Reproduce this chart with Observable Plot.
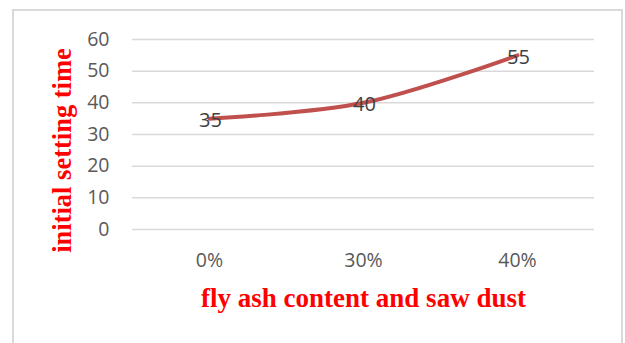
<!DOCTYPE html>
<html>
<head>
<meta charset="utf-8">
<script src="https://cdn.jsdelivr.net/npm/d3@7"></script>
<script src="https://cdn.jsdelivr.net/npm/@observablehq/plot@0.6"></script>
<style>
  html, body { margin: 0; padding: 0; background: #fff; overflow: hidden; }
  #wrap { position: relative; width: 625px; height: 343px; }
  #border { position: absolute; left: 12px; top: 9px; width: 611px; height: 380px;
            box-sizing: border-box; border: 2px solid #d9d9d9; }
  #chart { position: absolute; left: 0; top: 0; }
</style>
</head>
<body>
<div id="wrap"><div id="border"></div><div id="chart"></div></div>
<script>
const categories = ["0%", "30%", "40%"];
const values = [35, 40, 55];
const yTicks = [0, 10, 20, 30, 40, 50, 60];
const yTitle = "initial setting time";
const xTitle = "fly ash content and saw dust";

const data = categories.map((c, i) => ({cat: c, val: values[i]}));

const chart = Plot.plot({
  width: 625,
  height: 343,
  marginLeft: 132,
  marginRight: 31,
  marginTop: 39,
  marginBottom: 114,
  style: {fontFamily: "'Open Sans', sans-serif", fontSize: "19.5px", color: "#595959", background: "transparent", overflow: "visible"},
  x: {type: "point", domain: categories, padding: 0.5},
  y: {domain: [0, 60]},
  marks: [
    Plot.ruleY(yTicks, {stroke: "#d9d9d9", strokeWidth: 1.5, strokeOpacity: 1}),
    Plot.axisY({ticks: yTicks, tickSize: 0, tickPadding: 23, label: null, fontSize: 19.5}),
    Plot.axisX({tickSize: 0, tickPadding: 24, label: null, fontSize: 19.5}),
    Plot.line(data, {x: "cat", y: "val", stroke: "#C0504D", strokeWidth: 4, curve: "catmull-rom", strokeLinecap: "round"}),
    Plot.text(data, {x: "cat", y: "val", text: d => String(d.val), fill: "#404040", fontSize: 20, dy: 2, dx: 1, lineAnchor: "middle"}),
    Plot.text([yTitle], {text: d => d, frameAnchor: "left", textAnchor: "middle", rotate: -90, dx: -70, dy: 16, fill: "#ff0000", fontSize: 26.5, fontWeight: "bold", fontFamily: "'Liberation Serif', 'Times New Roman', serif", lineAnchor: "middle"}),
    Plot.text([xTitle], {text: d => d, frameAnchor: "bottom", textAnchor: "middle", dy: 69, fill: "#ff0000", fontSize: 27, fontWeight: "bold", fontFamily: "'Liberation Serif', 'Times New Roman', serif", lineAnchor: "middle"})
  ]
});
document.getElementById("chart").appendChild(chart);
</script>
</body>
</html>
